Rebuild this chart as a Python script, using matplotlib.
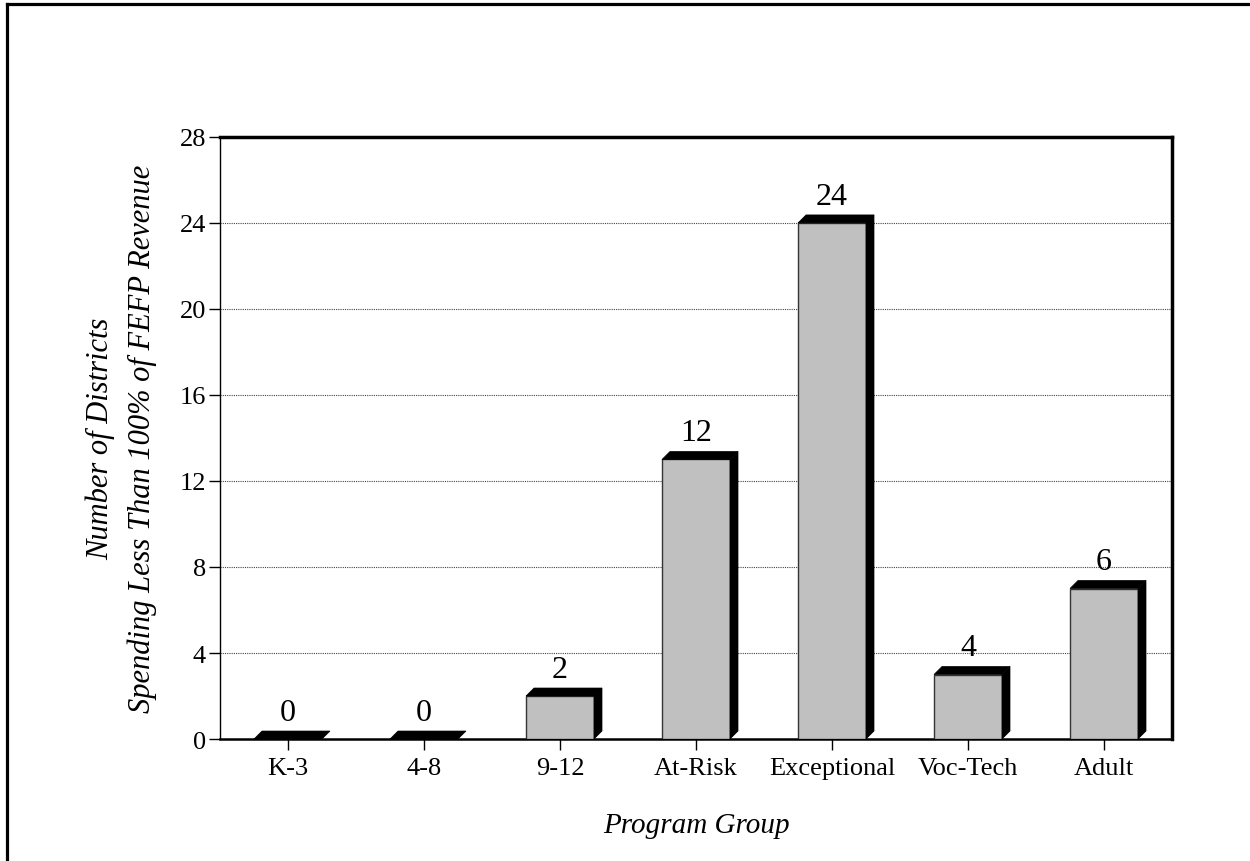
import matplotlib
matplotlib.use("Agg")
import matplotlib.pyplot as plt
from matplotlib.patches import Polygon, Rectangle
from matplotlib.lines import Line2D

# data
groups = ["K-3", "4-8", "9-12", "At-Risk", "Exceptional", "Voc-Tech", "Adult"]
bar_heights = [0, 0, 2, 13, 24, 3, 7]
bar_labels = ["0", "0", "2", "12", "24", "4", "6"]
y_ticks = [0, 4, 8, 12, 16, 20, 24, 28]

plt.rcParams['font.family'] = ['Liberation Serif', 'DejaVu Serif']

fig = plt.figure(figsize=(12.5, 8.62), dpi=100)
ax = fig.add_axes([0.176, 0.1415, 0.7616, 0.6985])

ax.set_xlim(-0.5, len(groups) - 0.5)
ax.set_ylim(0, 28)

# 3d depth in data units (about 8 px each way)
bar_w = 0.5
dx = 8 / 136
dy = 8 / (602 / 28)

for i, (h, lab) in enumerate(zip(bar_heights, bar_labels)):
    x0 = i - bar_w / 2
    x1 = i + bar_w / 2
    if h > 0:
        ax.add_patch(Rectangle((x0, 0), bar_w, h, facecolor='#c0c0c0',
                               edgecolor='#333333', linewidth=1, zorder=3))
        # side
        ax.add_patch(Polygon([(x1, 0), (x1 + dx, dy), (x1 + dx, h + dy), (x1, h)],
                             closed=True, facecolor='black', edgecolor='black',
                             linewidth=0.5, zorder=3))
    # top
    ax.add_patch(Polygon([(x0, h), (x0 + dx, h + dy), (x1 + dx, h + dy), (x1, h)],
                         closed=True, facecolor='black', edgecolor='black',
                         linewidth=0.5, zorder=3))
    ax.annotate(lab, (i, h + dy), xytext=(0, 3), textcoords='offset points',
                ha='center', va='bottom', fontsize=23, zorder=4)

# grid and axes styling
ax.set_yticks(y_ticks)
ax.set_yticklabels([str(t) for t in y_ticks], fontsize=19)
ax.set_xticks(range(len(groups)))
ax.set_xticklabels(groups, fontsize=19)
for t in y_ticks[1:-1]:
    ax.axhline(t, color='#444444', linestyle=(0, (1, 1)), linewidth=0.8, zorder=1)

ax.tick_params(axis='y', direction='out', length=8, width=1, pad=2)
ax.tick_params(axis='x', direction='out', length=8, width=1, pad=5)

ax.spines['top'].set_linewidth(2.5)
ax.spines['right'].set_linewidth(2.5)
ax.spines['left'].set_linewidth(1)
ax.spines['bottom'].set_linewidth(1.8)

ax.set_ylabel("Number of Districts\nSpending Less Than 100% of FEFP Revenue",
              fontsize=22, style='italic', labelpad=16, linespacing=1.55)
ax.set_xlabel("Program Group", fontsize=21, style='italic', labelpad=24)

# outer frame (top and left)
fig.add_artist(Line2D([7 / 1250, 1], [1 - 5 / 862, 1 - 5 / 862],
                      transform=fig.transFigure, color='black', linewidth=2.3))
fig.add_artist(Line2D([7 / 1250, 7 / 1250], [0, 1 - 5 / 862],
                      transform=fig.transFigure, color='black', linewidth=2.3))

fig.savefig("out.png", dpi=100)
